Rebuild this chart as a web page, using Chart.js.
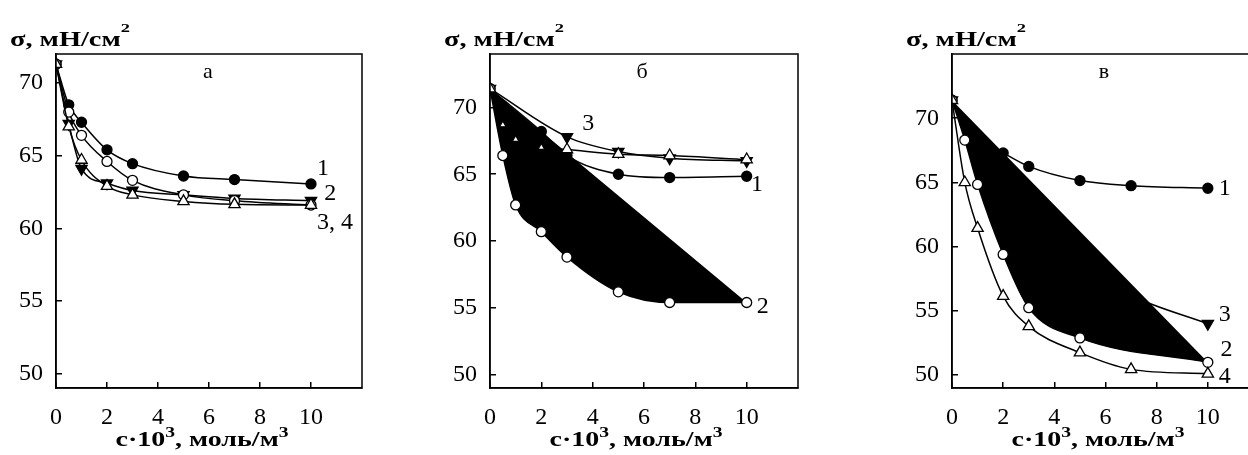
<!DOCTYPE html>
<html>
<head>
<meta charset="utf-8">
<script src="https://cdn.jsdelivr.net/npm/chart.js"></script>
<style>
  body { margin: 0; background: #fff; overflow: hidden; }
  #wrap { position: relative; width: 1248px; height: 455px; overflow: hidden; }
  canvas { position: absolute; top: 0; }
</style>
</head>
<body>
<div id="wrap">
  <canvas id="chartA" width="422" height="455" style="left:0"></canvas>
  <canvas id="chartB" width="424" height="455" style="left:434px"></canvas>
  <canvas id="chartC" width="423" height="455" style="left:896px"></canvas>
</div>
<script>
// concentration c·10³, моль/м³
const conc = [0, 0.5, 1, 2, 3, 5, 7, 10];

// panel а
const sigA1 = [71.3, 68.5, 67.3, 65.4, 64.45, 63.6, 63.35, 63.05];
const sigA2 = [71.3, 68.0, 66.4, 64.6, 63.3, 62.3, 61.9, 61.6];
const sigA3 = [71.3, 67.2, 64.1, 63.1, 62.6, 62.3, 62.05, 61.9];
const sigA4 = [71.3, 67.0, 64.7, 62.9, 62.3, 61.85, 61.65, 61.6];

// panel б
const concB1 = [0, 2, 3, 5, 7, 10];
const sigB1 = [71.4, 68.2, 66.4, 65.0, 64.75, 64.85];
const sigB2 = [71.4, 66.4, 62.7, 60.7, 58.8, 56.2, 55.4, 55.4];
const concB3 = [0, 3, 5, 7, 10];
const sigB3 = [71.4, 67.8, 66.7, 66.2, 66.0];
const sigB4 = [71.4, 68.7, 67.6, 67.0, 66.85, 66.5, 66.4, 66.1];

// panel в
const sigC1 = [71.4, 69.6, 68.4, 67.3, 66.25, 65.15, 64.75, 64.55];
const concC2 = [0, 0.5, 1, 2, 3, 5, 10];
const sigC2 = [71.4, 68.3, 64.85, 59.4, 55.25, 52.9, 51.0];
const sigC3 = [71.4, 69.5, 67.8, 64.5, 62.0, 58.6, 56.2, 54.0];
const sigC4 = [71.4, 65.0, 61.45, 56.15, 53.8, 51.75, 50.45, 50.1];

const xTicks = [0, 2, 4, 6, 8, 10];
const yTicks = [50, 55, 60, 65, 70];

// axis titles, superscripts marked
const yTitle = [{ t: 'σ, мН/см' }, { t: '2', sup: true }];
const xTitle = [{ t: 'c·10' }, { t: '3', sup: true }, { t: ', моль/м' }, { t: '3', sup: true }];

Chart.defaults.font.family = '"Liberation Serif", "Times New Roman", serif';
Chart.defaults.color = '#000';

function pts(xs, ys) {
    return xs.map((x, i) => ({ x: x, y: ys[i] }));
}

const marker = {
    dot:  { pointStyle: 'circle', pointRadius: 5, pointBackgroundColor: '#000' },
    ring: { pointStyle: 'circle', pointRadius: 5, pointBackgroundColor: '#fff' },
    down: { pointStyle: 'triangle', pointRotation: 180, pointRadius: 6.5, pointBackgroundColor: '#000' },
    up:   { pointStyle: 'triangle', pointRadius: 6.5, pointBackgroundColor: '#fff' }
};

function series(xs, ys, style, order, extra) {
    return Object.assign({
        data: pts(xs, ys),
        order: order,
        borderColor: '#000',
        borderWidth: 1.5,
        pointBorderColor: '#000',
        pointBorderWidth: 1.3,
        cubicInterpolationMode: 'monotone',
        fill: false
    }, marker[style], extra || {});
}

// bold title with raised indices, stretched to the given width
function titleText(ctx, parts, x, y, width, align, sz) {
    const fontOf = p => 'bold ' + (p.sup ? sz.sup : sz.base) + 'px "Liberation Serif"';
    let w = 0;
    parts.forEach(p => { ctx.font = fontOf(p); w += ctx.measureText(p.t).width; });
    ctx.save();
    ctx.translate(align === 'center' ? x - width / 2 : x, y);
    ctx.scale(width / w, 1);
    ctx.textAlign = 'left';
    ctx.textBaseline = 'alphabetic';
    let cx = 0;
    parts.forEach(p => {
        ctx.font = fontOf(p);
        ctx.fillText(p.t, cx, p.sup ? -sz.rise : 0);
        cx += ctx.measureText(p.t).width;
    });
    ctx.restore();
}

const framePlugin = {
    id: 'frame',
    afterDatasetsDraw(chart) {
        const { ctx, chartArea: a } = chart;
        ctx.save();
        ctx.strokeStyle = '#000';
        ctx.lineWidth = 1.5;
        ctx.strokeRect(a.left, a.top, a.right - a.left, a.bottom - a.top);
        ctx.restore();
    }
};

const textPlugin = {
    id: 'panelText',
    afterDraw(chart, args, opts) {
        const { ctx, chartArea: area, scales } = chart;
        ctx.save();
        ctx.fillStyle = '#000';
        ctx.textAlign = 'center';
        ctx.textBaseline = 'middle';

        ctx.font = '22px "Liberation Serif"';
        ctx.fillText(opts.letter, area.left + 152, area.top + 18);

        ctx.font = '24px "Liberation Serif"';
        opts.curves.forEach(c => {
            ctx.fillText(c.text, scales.x.getPixelForValue(c.x), scales.y.getPixelForValue(c.y));
        });

        titleText(ctx, yTitle, area.left - 46, 46, 120, 'left', { base: 20, sup: 13, rise: 14 });
        titleText(ctx, xTitle, area.left + 146, 446, 173, 'center', { base: 20, sup: 14, rise: 9 });
        ctx.restore();
    }
};

function makeChart(id, yMax, datasets, letter, curves) {
    return new Chart(document.getElementById(id), {
        type: 'line',
        data: { datasets: datasets },
        plugins: [framePlugin, textPlugin],
        options: {
            responsive: false,
            animation: false,
            layout: { padding: { top: 54, right: 60, left: 0, bottom: 0 } },
            plugins: {
                legend: { display: false },
                tooltip: { enabled: false },
                filler: { drawTime: 'beforeDatasetDraw' },
                panelText: { letter: letter, curves: curves }
            },
            scales: {
                x: {
                    type: 'linear',
                    min: 0,
                    max: 12,
                    afterBuildTicks: s => { s.ticks = xTicks.map(v => ({ value: v })); },
                    afterFit: s => { s.height = 67; s.paddingLeft = 0; s.paddingRight = 0; },
                    grid: { drawOnChartArea: false, tickLength: -6, color: '#000', lineWidth: 1.5 },
                    border: { color: '#000', width: 1.5 },
                    ticks: { padding: 21, font: { size: 24 }, maxRotation: 0, autoSkip: false }
                },
                y: {
                    type: 'linear',
                    min: 49,
                    max: yMax,
                    afterBuildTicks: s => { s.ticks = yTicks.map(v => ({ value: v })); },
                    afterFit: s => { s.width = 56; s.paddingTop = 0; s.paddingBottom = 0; },
                    grid: { drawOnChartArea: false, tickLength: -6, color: '#000', lineWidth: 1.5 },
                    border: { color: '#000', width: 1.5 },
                    ticks: { padding: 19, font: { size: 24 }, autoSkip: false }
                }
            }
        }
    });
}

makeChart('chartA', 72, [
    series(conc, sigA4, 'up', 0),
    series(conc, sigA2, 'ring', 1),
    series(conc, sigA1, 'dot', 2),
    series(conc, sigA3, 'down', 3)
], 'а', [
    { text: '1', x: 10.47, y: 64.1 },
    { text: '2', x: 10.75, y: 62.35 },
    { text: '3, 4', x: 10.94, y: 60.4 }
]);

makeChart('chartB', 74, [
    series(conc, sigB4, 'up', 0, { pointRadius: [6.5, 4, 4, 4, 6.5, 6.5, 6.5, 6.5] }),
    series(conc, sigB2, 'ring', 1, { fill: 'shape', backgroundColor: '#000' }),
    series(concB1, sigB1, 'dot', 2),
    series(concB3, sigB3, 'down', 3)
], 'б', [
    { text: '3', x: 3.83, y: 68.8 },
    { text: '1', x: 10.4, y: 64.2 },
    { text: '2', x: 10.63, y: 55.1 }
]);

makeChart('chartC', 75, [
    series(conc, sigC4, 'up', 0),
    series(concC2, sigC2, 'ring', 1, { fill: 'shape', backgroundColor: '#000' }),
    series(conc, sigC1, 'dot', 2),
    series(conc, sigC3, 'down', 3)
], 'в', [
    { text: '1', x: 10.66, y: 64.55 },
    { text: '3', x: 10.66, y: 54.7 },
    { text: '2', x: 10.73, y: 52.0 },
    { text: '4', x: 10.66, y: 49.9 }
]);
</script>
</body>
</html>
